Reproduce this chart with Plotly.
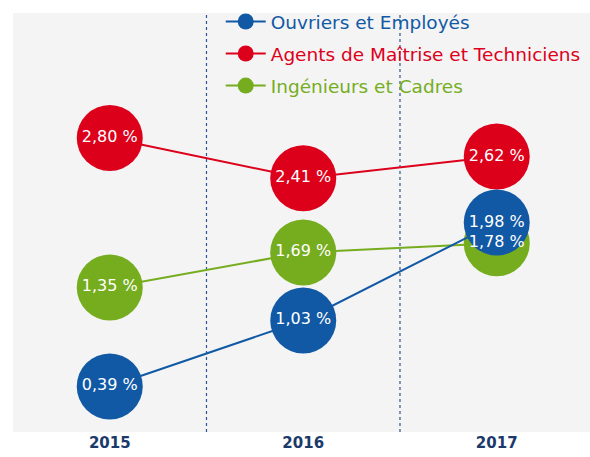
import plotly.graph_objects as go

years = ["2015", "2016", "2017"]
x_pos = [0, 1, 2]

series_names = ["Ouvriers et Employés", "Agents de Maîtrise et Techniciens", "Ingénieurs et Cadres"]
ouvriers = [0.39, 1.03, 1.98]
agents = [2.80, 2.41, 2.62]
ingenieurs = [1.35, 1.69, 1.78]

BLUE = "#1159a5"
RED = "#dd001b"
GREEN = "#76ad1f"
NAVY = "#1b3a6b"
FONT = "DejaVu Sans"


def fmt(v):
    return f"{v:.2f}".replace(".", ",") + " %"


fig = go.Figure()

order = [
    (series_names[1], agents, RED, 2),
    (series_names[2], ingenieurs, GREEN, 3),
    (series_names[0], ouvriers, BLUE, 1),
]

# draw order: red, green, blue (blue on top); legend order via legendrank
for name, vals, col, rank in order:
    fig.add_trace(go.Scatter(
        x=x_pos, y=vals,
        mode="lines+markers",
        name=f"<span style='color:{col}'>{name}</span>",
        legendgroup=name,
        legendrank=rank,
        line=dict(color=col, width=2),
        marker=dict(color=col, size=66, line=dict(width=0)),
        hoverinfo="skip",
        cliponaxis=False,
    ))

# value labels on top of all circles
for name, vals, col, rank in order:
    fig.add_trace(go.Scatter(
        x=x_pos, y=vals,
        mode="text",
        text=[fmt(v) for v in vals],
        textposition="middle center",
        textfont=dict(color="white", size=16, family=FONT),
        showlegend=False,
        hoverinfo="skip",
        cliponaxis=False,
    ))

for xv in [0.5, 1.5]:
    fig.add_shape(type="line", xref="x", yref="paper", x0=xv, x1=xv, y0=0, y1=1,
                  line=dict(color="#2f5590", width=1.2, dash="dot"), layer="below")

fig.update_layout(
    width=590, height=457,
    margin=dict(l=13, r=0, t=13, b=25, autoexpand=False),
    paper_bgcolor="white",
    plot_bgcolor="#f4f4f4",
    font=dict(family=FONT, color=NAVY),
    showlegend=True,
    legend=dict(
        x=0.36, y=1.024, xanchor="left", yanchor="top",
        bgcolor="rgba(0,0,0,0)",
        font=dict(size=18.5, family=FONT),
        itemwidth=40,
        tracegroupgap=5,
        traceorder="grouped",
    ),
    xaxis=dict(
        range=[-0.5, 2.482],
        tickvals=x_pos, ticktext=[f"<b>{y}</b>" for y in years],
        tickfont=dict(size=15, color=NAVY, family=FONT),
        showgrid=False, zeroline=False, showline=False, ticks="",
        automargin=False, fixedrange=True,
    ),
    yaxis=dict(
        range=[-0.052, 4.013],
        visible=False, showgrid=False, zeroline=False,
        automargin=False, fixedrange=True,
    ),
)

fig.write_html(
    "out.html",
    config={"displayModeBar": False},
    post_script="document.body.style.margin='0';document.body.style.overflow='hidden';",
)
